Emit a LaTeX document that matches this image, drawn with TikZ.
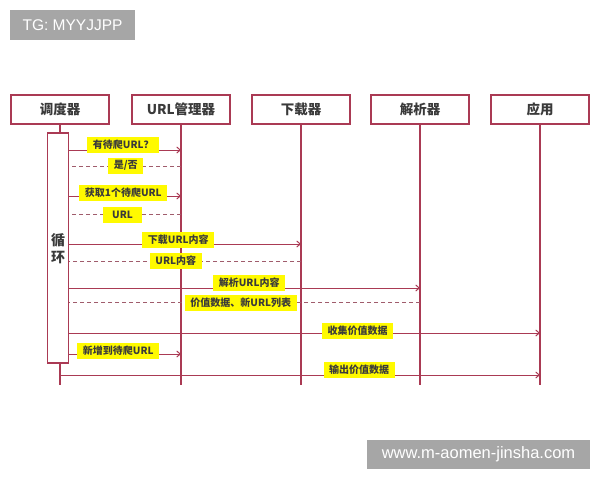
\documentclass[tikz,border=0pt]{standalone}
\usepackage{fontspec}
\setmainfont{Liberation Sans}
\newfontfamily\cjk{Noto Sans CJK SC}
\usetikzlibrary{arrows.meta,shadows}
\definecolor{rl}{RGB}{170,58,84}
\definecolor{dl}{RGB}{160,92,108}
\definecolor{yl}{RGB}{255,250,0}
\definecolor{tx}{RGB}{58,58,58}
\definecolor{wm}{RGB}{166,166,166}
\begin{document}
\begin{tikzpicture}[x=1pt,y=-1pt,
 head/.style={draw=rl,line width=1.6pt,fill=white,minimum width=98pt,minimum height=29pt,inner sep=0pt,
   font=\cjk\bfseries\fontsize{13.5}{14}\selectfont,text=tx,
   drop shadow={opacity=0.15,shadow xshift=1.2pt,shadow yshift=-1.2pt}},
 life/.style={draw=rl,line width=1.5pt},
 msg/.style={draw=rl,line width=1pt,-{Straight Barb[length=3.5pt,width=6pt]}},
 ret/.style={draw=dl,line width=1pt,dash pattern=on 4pt off 3pt},
 lab/.style={fill=yl,inner xsep=5.5pt,inner ysep=0pt,minimum height=16pt,
   font=\cjk\bfseries\fontsize{10}{11}\selectfont,text=tx},
 wmk/.style={fill=wm,text=white,inner sep=0pt}]
\useasboundingbox (0,0) rectangle (600,480);
\fill[white] (0,0) rectangle (600,480);

% watermarks
\node[wmk,minimum width=125pt,minimum height=30pt,font=\fontsize{15.5}{16}\selectfont] (wm1) at (72.5,25) {TG: MYYJJPP};
\node[wmk,minimum width=223pt,minimum height=29pt,font=\fontsize{16.5}{17}\selectfont] (wm2) at (478.5,454.5) {www.m-aomen-jinsha.com};

% headers
\node[head] (h1) at (60,109.5) {调度器};
\node[head] (h2) at (181,109.5) {URL管理器};
\node[head] (h3) at (301,109.5) {下载器};
\node[head] (h4) at (420,109.5) {解析器};
\node[head] (h5) at (540,109.5) {应用};

% lifeline ends
\coordinate (e1) at (60,385);
\coordinate (e2) at (181,385);
\coordinate (e3) at (301,385);
\coordinate (e4) at (420,385);
\coordinate (e5) at (540,385);

% activation
\node[draw=rl,line width=1.3pt,fill=white,minimum width=21pt,minimum height=230pt,inner sep=0pt] (act) at (58,248) {};
\node[font=\cjk\bfseries\fontsize{14}{17}\selectfont,text=tx,align=center] (loopt) at (58,248.5) {循\\环};

\draw[life] (h1.south) -- (h1.south |- act.north);
\draw[life] (h1.south |- act.south) -- (e1);
\draw[life] (h2.south) -- (e2);
\draw[life] (h3.south) -- (e3);
\draw[life] (h4.south) -- (e4);
\draw[life] (h5.south) -- (e5);

% messages
\draw[msg] (act.east |- 0,150) -- (h2.south |- 0,150);
\draw[ret] (h2.south |- 0,166) -- (act.east |- 0,166);
\draw[msg] (act.east |- 0,196) -- (h2.south |- 0,196);
\draw[ret] (h2.south |- 0,214) -- (act.east |- 0,214);
\draw[msg] (act.east |- 0,244) -- (h3.south |- 0,244);
\draw[ret] (h3.south |- 0,261) -- (act.east |- 0,261);
\draw[msg] (act.east |- 0,288) -- (h4.south |- 0,288);
\draw[ret] (h4.south |- 0,302) -- (act.east |- 0,302);
\draw[msg] (act.east |- 0,333) -- (h5.south |- 0,333);
\draw[msg] (act.east |- 0,354) -- (h2.south |- 0,354);
\draw[msg] (h1.south |- 0,375) -- (h5.south |- 0,375);

% labels
\node[lab] (l1) at (123.3,145) {有待爬URL？};
\node[lab] (l2) at (125.8,165.5) {是/否};
\node[lab,inner xsep=9pt] (l4) at (122.5,214.5) {URL};
\node[lab] (l3) at (123.3,192.5) {获取1个待爬URL};
\node[lab] (l5) at (178.3,240) {下载URL内容};
\node[lab] (l6) at (175.8,261) {URL内容};
\node[lab] (l7) at (249.2,282.5) {解析URL内容};
\node[lab] (l8) at (240.8,302.5) {价值数据、新URL列表};
\node[lab] (l9) at (357.5,330.5) {收集价值数据};
\node[lab] (l10) at (118.3,350.5) {新增到待爬URL};
\node[lab] (l11) at (359.2,370) {输出价值数据};
\end{tikzpicture}
\end{document}
